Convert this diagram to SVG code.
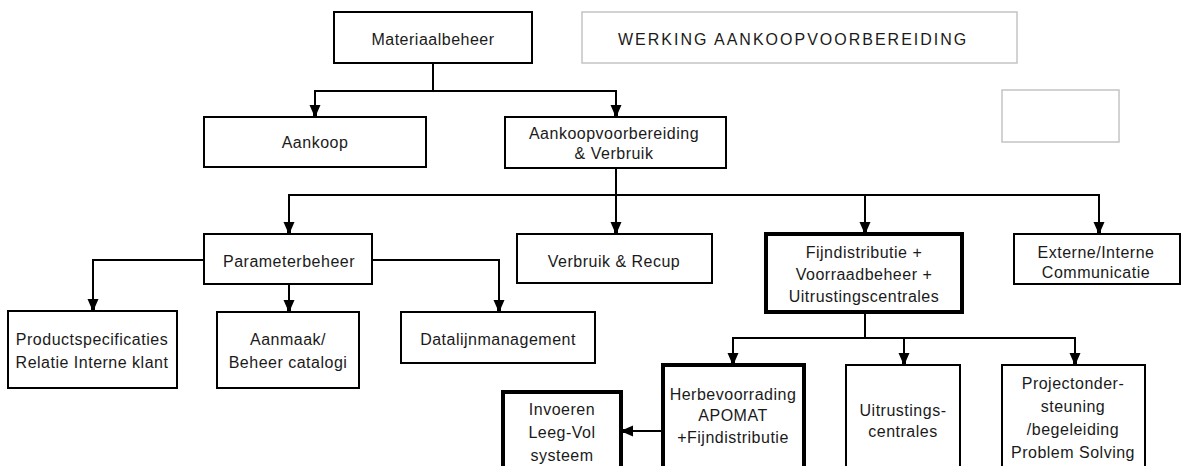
<svg xmlns="http://www.w3.org/2000/svg" width="1182" height="466" viewBox="0 0 1182 466">
<style>
.box{fill:#fff;stroke:#000;stroke-width:2}
.thick{stroke-width:4}
.ghost{fill:#fff;stroke:#c4c4c4;stroke-width:1.5}
.t{font-family:"Liberation Sans",Arial,sans-serif;font-size:16px;fill:#1a1a1a;text-anchor:middle;dominant-baseline:central;letter-spacing:0.5px}
.conn{fill:none;stroke:#000;stroke-width:2}
</style>
<defs>
<marker id="arr" viewBox="-13 -7 14 14" refX="0" refY="0" markerWidth="14" markerHeight="14" markerUnits="userSpaceOnUse" orient="auto">
<path d="M-12,-5.5 L-12,5.5 L-4,2 L0,2 L0,-2 L-4,-2 Z" fill="#000"/>
</marker>
</defs>
<rect width="1182" height="466" fill="#fff"/>
<g id="connectors">
<path class="conn" d="M433,63 V91 H315 V117" marker-end="url(#arr)"/>
<path class="conn" d="M433,91 H616 V117" marker-end="url(#arr)"/>
<path class="conn" d="M616,168 V195 H289 V234" marker-end="url(#arr)"/>
<path class="conn" d="M616,195 V234" marker-end="url(#arr)"/>
<path class="conn" d="M616,195 H865 V234" marker-end="url(#arr)"/>
<path class="conn" d="M865,195 H1099 V234" marker-end="url(#arr)"/>
<path class="conn" d="M204,260 H93 V311" marker-end="url(#arr)"/>
<path class="conn" d="M289,284 V312" marker-end="url(#arr)"/>
<path class="conn" d="M372,260 H499 V312" marker-end="url(#arr)"/>
<path class="conn" d="M865,312 V338 H733 V365" marker-end="url(#arr)"/>
<path class="conn" d="M865,338 H904 V365" marker-end="url(#arr)"/>
<path class="conn" d="M904,338 H1075 V365" marker-end="url(#arr)"/>
<path class="conn" d="M663,431 H621" marker-end="url(#arr)"/>
</g>
<g id="materiaalbeheer"><rect class="box" x="334" y="12" width="198" height="51"/><text class="t" x="433" y="39">Materiaalbeheer</text></g>
<g id="titel"><rect class="ghost" x="582" y="12" width="435" height="51"/><text class="t" x="618" y="39" style="text-anchor:start;letter-spacing:2px">WERKING AANKOOPVOORBEREIDING</text></g>
<g id="leeg"><rect class="ghost" x="1002" y="90" width="117" height="52"/></g>
<g id="aankoop"><rect class="box" x="204" y="117" width="222" height="50"/><text class="t" x="315" y="142">Aankoop</text></g>
<g id="aankoopvoorbereiding"><rect class="box" x="505" y="117" width="221" height="51"/><text class="t" x="614" y="133">Aankoopvoorbereiding</text><text class="t" x="614" y="153">&amp; Verbruik</text></g>
<g id="parameterbeheer"><rect class="box" x="204" y="234" width="168" height="50"/><text class="t" x="289" y="261">Parameterbeheer</text></g>
<g id="verbruik"><rect class="box" x="517" y="234" width="195" height="49"/><text class="t" x="614" y="261">Verbruik &amp; Recup</text></g>
<g id="fijndistributie"><rect class="box thick" x="766" y="234" width="196" height="78"/><text class="t" x="864" y="252">Fijndistributie +</text><text class="t" x="864" y="274">Voorraadbeheer +</text><text class="t" x="864" y="296">Uitrustingscentrales</text></g>
<g id="communicatie"><rect class="box" x="1014" y="234" width="166" height="50"/><text class="t" x="1096" y="252">Externe/Interne</text><text class="t" x="1096" y="272">Communicatie</text></g>
<g id="productspecificaties"><rect class="box" x="8" y="311" width="169" height="77"/><text class="t" x="92" y="339">Productspecificaties</text><text class="t" x="92" y="362">Relatie Interne klant</text></g>
<g id="aanmaak"><rect class="box" x="217" y="312" width="142" height="76"/><text class="t" x="288" y="339">Aanmaak/</text><text class="t" x="288" y="362">Beheer catalogi</text></g>
<g id="datalijn"><rect class="box" x="401" y="312" width="194" height="51"/><text class="t" x="498" y="339">Datalijnmanagement</text></g>
<g id="herbevoorrading"><rect class="box thick" x="663" y="365" width="141" height="110"/><text class="t" x="733" y="394">Herbevoorrading</text><text class="t" x="733" y="415">APOMAT</text><text class="t" x="733" y="437">+Fijndistributie</text></g>
<g id="uitrustingscentrales"><rect class="box" x="846" y="365" width="114" height="110"/><text class="t" x="903" y="410">Uitrustings-</text><text class="t" x="903" y="431">centrales</text></g>
<g id="projectondersteuning"><rect class="box" x="1002" y="365" width="143" height="110"/><text class="t" x="1073" y="383">Projectonder-</text><text class="t" x="1073" y="406">steuning</text><text class="t" x="1073" y="429">/begeleiding</text><text class="t" x="1073" y="452">Problem Solving</text></g>
<g id="invoeren"><rect class="box thick" x="503" y="392" width="118" height="83"/><text class="t" x="562" y="409">Invoeren</text><text class="t" x="562" y="432">Leeg-Vol</text><text class="t" x="562" y="455">systeem</text></g>
</svg>
